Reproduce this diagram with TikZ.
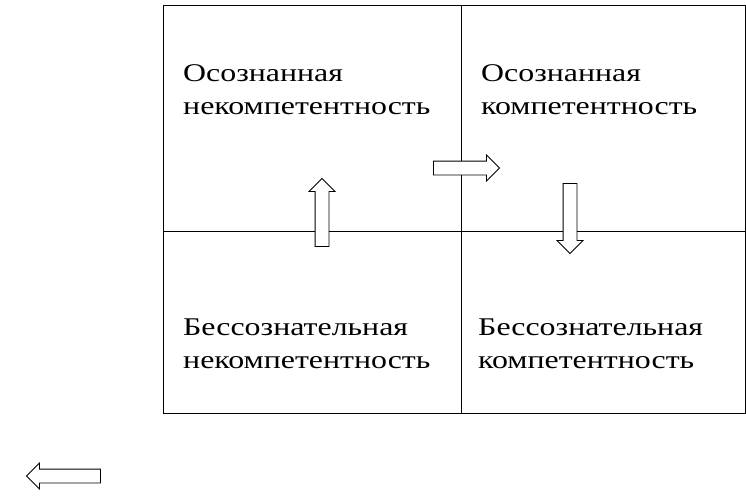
\documentclass[tikz,border=0pt]{standalone}
\usepackage{fontspec}
\setmainfont{Liberation Serif}
\usetikzlibrary{shapes.arrows}
\newcommand{\widetext}[1]{\scalebox{1.25}[1]{\begin{tabular}{@{}l@{}}#1\end{tabular}}}
\begin{document}
\begin{tikzpicture}[x=1pt,y=-1pt,
   lbl/.style={anchor=west, inner sep=0pt, font=\fontsize{25.5}{33}\selectfont},
   blockarrow/.style={single arrow, draw=black, thick, fill=white,
      minimum height=#1, minimum width=25pt, single arrow head extend=6pt, inner sep=6.5pt}]
   \useasboundingbox (0,0) rectangle (746,498);
   % quadrants
   \draw[thick] (163,5) rectangle (745,413);
   \draw[thick] (461,5) -- (461,413);
   \draw[thick] (163,231) -- (745,231);
   % labels
   \node[lbl] (oi) at (183,91) {\widetext{Осознанная\\некомпетентность}};
   \node[lbl] (ok) at (481,91) {\widetext{Осознанная\\компетентность}};
   \node[lbl] (bi) at (183,345) {\widetext{Бессознательная\\некомпетентность}};
   \node[lbl] (bk) at (478,345) {\widetext{Бессознательная\\компетентность}};
   % transitions
   \node[blockarrow=68pt, rotate=90] (up) at (322,216) {};
   \node[blockarrow=66pt] (right) at (463,168) {};
   \node[blockarrow=70pt, rotate=-90] (down) at (570,215) {};
   \node[blockarrow=74pt, rotate=180] (left) at (67,476) {};
\end{tikzpicture}
\end{document}
